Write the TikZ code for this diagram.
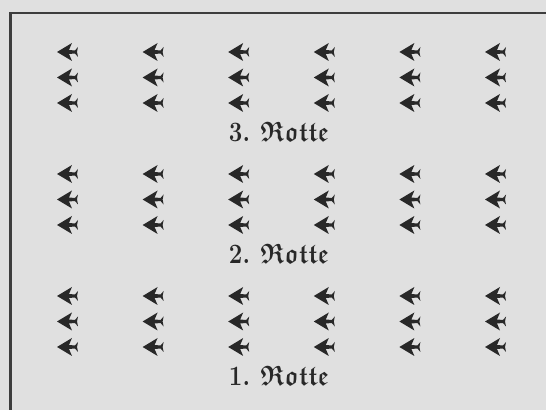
\documentclass[tikz,border=0pt]{standalone}
\usepackage{amssymb}
\definecolor{paper}{RGB}{224,224,224}
\definecolor{ink}{RGB}{40,40,40}
\tikzset{
  plane/.pic={\fill[ink] (-11,0)--(4,-9)--(1,-2)--(7,-1.5)--(10,-5)--(9,0)--(10,5)--(7,1.5)--(1,2)--(4,9)--cycle;},
  rottelabel/.style={text=ink,font=\fontsize{14}{16}\selectfont}
}
\begin{document}
\begin{tikzpicture}[x=0.5pt,y=-0.5pt]
\useasboundingbox (0,0) rectangle (546,410);
\fill[paper] (-10,-10) rectangle (560,420);
% frame
\draw[ink!90,line width=1.3pt] (560,13)--(10.5,13)--(10.5,420);
% three Rotten
\foreach \g/\n in {52/3,174/2,296/1}{
  \foreach \i in {0,...,5}
    \foreach \r in {0,1,2}
      \pic at ({68+85.6*\i},{\g+25.5*\r}) {plane};
  \node[rottelabel,xscale=0.86] (rotte\n) at (279,\g+80) {\textbf{\n.} {\boldmath$\mathfrak{Rotte}$}};
}
\end{tikzpicture}
\end{document}
